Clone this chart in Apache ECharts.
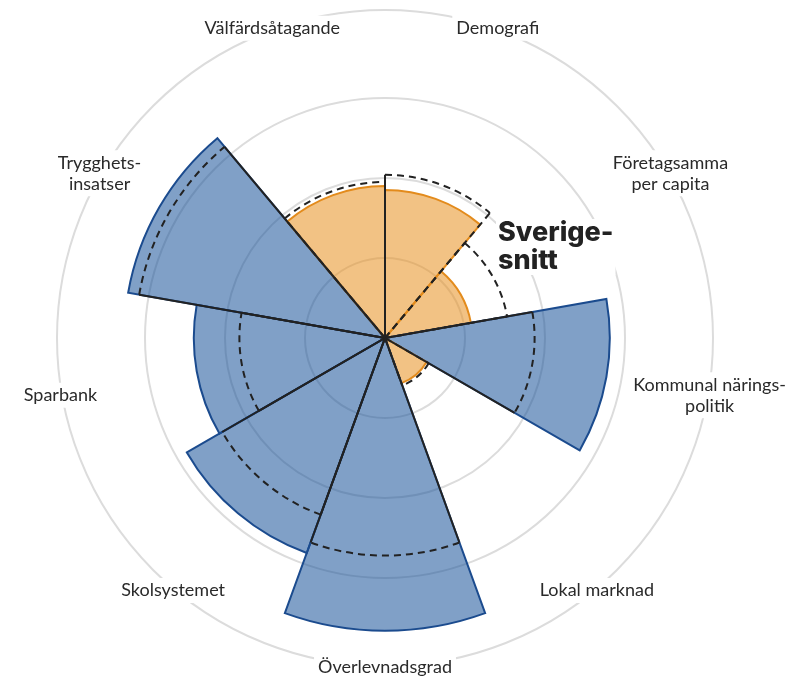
<!DOCTYPE html>
<html>
<head>
<meta charset="utf-8">
<script src="https://cdn.jsdelivr.net/npm/echarts@6/dist/echarts.min.js"></script>
<style>
  html, body { margin: 0; padding: 0; background: #fff; }
  #chart { width: 803px; height: 678px; }
</style>
</head>
<body>
<div id="chart"></div>
<script>
// ---- data (radius units: one grid ring = 1) ----
const categories = ['Demografi', 'Företagsamma\nper capita', 'Kommunal närings-\npolitik', 'Lokal marknad',
  'Överlevnadsgrad', 'Skolsystemet', 'Sparbank', 'Trygghets-\ninsatser', 'Välfärdsåtagande'];
const values   = [1.85, 1.09, 2.81, 0.60, 3.66, 2.86, 2.39, 3.26, 1.90];
const averages = [2.04, 1.55, 1.87, 0.63, 2.72, 2.35, 1.82, 3.12, 1.95];
const ringTicks = [0, 1, 2, 3];
const annotation = 'Sverige-\nsnitt';

const labelRadius = 4.12;
const outerMax = 4.1;

const blueFill = 'rgba(24,82,153,0.55)';
const blueLine = '#1b4b8e';
const orangeFill = 'rgba(231,144,31,0.55)';
const orangeLine = '#e38b1c';
const ink = '#222222';

const chart = echarts.init(document.getElementById('chart'));
const N = categories.length;

function above(i) { return values[i] > averages[i]; }

function geom(params, api, rVal, idx) {
  const c = params.coordSys;
  const p = api.coord([rVal, idx]);
  const a = Math.atan2(p[1] - c.cy, p[0] - c.cx);
  const r = Math.hypot(p[0] - c.cx, p[1] - c.cy);
  const hw = Math.PI / N;
  return { cx: c.cx, cy: c.cy, a, r, a0: a - hw, a1: a + hw };
}

const option = {
  animation: false,
  backgroundColor: '#ffffff',
  polar: [
    { center: [385, 338], radius: 328 },
    { center: [385, 338], radius: 240 }
  ],
  angleAxis: [
    {
      polarIndex: 0, type: 'category', data: categories, startAngle: 90, clockwise: true,
      axisLine: { show: true, lineStyle: { color: '#dcdcdc', width: 2 } },
      axisTick: { show: false }, axisLabel: { show: false }, splitLine: { show: false }
    },
    {
      polarIndex: 1, type: 'value', min: 0, max: 360, startAngle: 90,
      axisLine: { show: false }, axisTick: { show: false }, axisLabel: { show: false }, splitLine: { show: false }
    }
  ],
  radiusAxis: [
    {
      polarIndex: 0, type: 'value', min: 0, max: outerMax,
      axisLine: { show: false }, axisTick: { show: false }, axisLabel: { show: false }, splitLine: { show: false }
    },
    {
      polarIndex: 1, type: 'value', min: ringTicks[0], max: ringTicks[ringTicks.length - 1], interval: 1,
      axisLine: { show: false }, axisTick: { show: false }, axisLabel: { show: false },
      splitLine: { show: true, lineStyle: { color: '#dcdcdc', width: 2 } }
    }
  ],
  series: [
    {
      type: 'bar', coordinateSystem: 'polar', polarIndex: 0, barCategoryGap: '0%', z: 2,
      data: values.map((v, i) => ({
        value: v,
        itemStyle: {
          color: above(i) ? blueFill : orangeFill,
          borderColor: above(i) ? blueLine : orangeLine,
          borderWidth: 2
        }
      }))
    },
    {
      // solid radial edges for categories above the average
      type: 'custom', coordinateSystem: 'polar', polarIndex: 0, z: 3, silent: true,
      data: averages.map((v, i) => [v, i]),
      renderItem: function (params, api) {
        const i = params.dataIndex;
        if (!above(i) && i !== 0) return null;
        const g = geom(params, api, api.value(0), i);
        const st = { stroke: ink, lineWidth: 2 };
        const children = [
          { type: 'line', shape: { x1: g.cx, y1: g.cy, x2: g.cx + g.r * Math.cos(g.a0), y2: g.cy + g.r * Math.sin(g.a0) }, style: st }
        ];
        if (above(i)) {
          children.push({ type: 'line', shape: { x1: g.cx, y1: g.cy, x2: g.cx + g.r * Math.cos(g.a1), y2: g.cy + g.r * Math.sin(g.a1) }, style: st });
        }
        return { type: 'group', children };
      }
    },
    {
      // dashed average arcs (and dashed edges for categories below average)
      type: 'custom', coordinateSystem: 'polar', polarIndex: 0, z: 4, silent: true,
      data: averages.map((v, i) => [v, i]),
      renderItem: function (params, api) {
        const i = params.dataIndex;
        const g = geom(params, api, api.value(0), i);
        const st = { stroke: ink, lineWidth: 2, lineDash: [7, 5], fill: null };
        const children = [
          { type: 'arc', shape: { cx: g.cx, cy: g.cy, r: g.r, startAngle: g.a0, endAngle: g.a1, clockwise: true }, style: st }
        ];
        if (!above(i)) {
          if (i !== 0) {
            children.push({ type: 'line', shape: { x1: g.cx, y1: g.cy, x2: g.cx + g.r * Math.cos(g.a0), y2: g.cy + g.r * Math.sin(g.a0) }, style: st });
          }
          if (i !== N - 1) {
            children.push({ type: 'line', shape: { x1: g.cx, y1: g.cy, x2: g.cx + g.r * Math.cos(g.a1), y2: g.cy + g.r * Math.sin(g.a1) }, style: st });
          }
        }
        return { type: 'group', children };
      }
    },
    {
      // category labels centred on the outer ring
      type: 'custom', coordinateSystem: 'polar', polarIndex: 0, z: 5, silent: true,
      data: categories.map((c, i) => [labelRadius, i]),
      renderItem: function (params, api) {
        const i = params.dataIndex;
        const p = api.coord([api.value(0), i]);
        return {
          type: 'text',
          style: {
            text: categories[i], x: p[0], y: p[1],
            align: 'center', verticalAlign: 'middle',
            fontFamily: 'Lato', fontSize: 18, lineHeight: 21, fill: '#2a2a2a',
            backgroundColor: '#ffffff', padding: [2, 4]
          }
        };
      }
    }
  ],
  graphic: [
    {
      type: 'text', left: 496, top: 219, z: 100,
      style: {
        text: annotation, fontFamily: 'Inter', fontWeight: 800, fontSize: 27, lineHeight: 28,
        fill: '#222222', backgroundColor: '#ffffff', padding: [0, 2]
      }
    }
  ]
};
chart.setOption(option);
</script>
</body>
</html>
